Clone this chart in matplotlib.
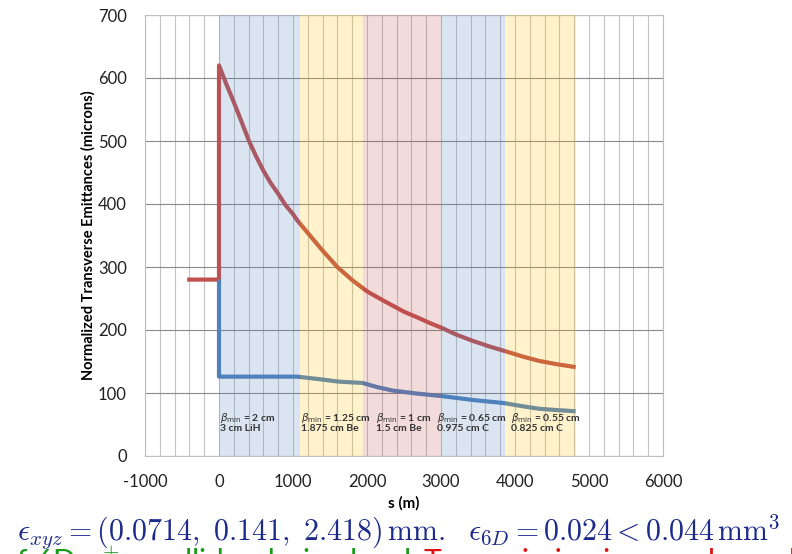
import matplotlib
matplotlib.use("Agg")
import matplotlib.pyplot as plt
import numpy as np

# Emittance evolution along the cooling channel
red_s = [-430, 0, 0, 100, 189, 300, 405, 500, 599, 700, 802, 900, 1000, 1058,
         1200, 1400, 1599, 1802, 2005, 2200, 2342, 2500, 2680, 2850, 3018,
         3200, 3423, 3650, 3851, 4100, 4324, 4550, 4820]
red_v = [280, 280, 620, 590, 565, 532, 500, 476, 453, 433, 416, 398, 384, 374,
         354, 326, 300, 279, 261, 248, 239, 229, 220, 211, 203,
         193, 183, 174, 167, 158, 151, 146, 141]

blue_s = [0, 0, 1058, 1200, 1351, 1622, 1937, 2150, 2342, 2680, 3018, 3423,
          3851, 4100, 4324, 4550, 4820]
blue_v = [280, 126, 126, 124, 122, 118, 116, 109, 104, 99, 95, 89,
          84, 79, 75, 73, 71]

# Channel stages
stage_edges = [0, 1095, 1950, 3018, 3870, 4824]
stage_colors = ["#4F81BD", "#FFC000", "#C0504D", "#4F81BD", "#FFC000"]
stage_beta = ["2 cm", "1.25 cm", "1 cm", "0.65 cm", "0.55 cm"]
stage_absorber = ["3 cm LiH", "1.875 cm Be", "1.5 cm Be", "0.975 cm C", "0.825 cm C"]
stage_label_x = [0, 1095, 2110, 2940, 3935]

x_ticks = [-1000, 0, 1000, 2000, 3000, 4000, 5000, 6000]
y_ticks = [0, 100, 200, 300, 400, 500, 600, 700]

plt.rcParams['font.family'] = ['Lato', 'DejaVu Sans']
plt.rcParams['mathtext.fontset'] = 'cm'
plt.rcParams['axes.unicode_minus'] = False

fig = plt.figure(figsize=(7.92, 5.54), dpi=100)
ax = fig.add_axes([145/792, 1 - 456/554, (663-145)/792, (456-15)/554])

ax.set_xlim(-1000, 6000)
ax.set_ylim(0, 700)

# grid
for xv in np.arange(-1000, 6001, 200):
    ax.axvline(xv, color="#c4c4c4", lw=0.8, zorder=0)
for yv in y_ticks:
    ax.axhline(yv, color="#8a8a8a", lw=0.8, zorder=0)

ax.plot(red_s, red_v, color="#C0504D", lw=3.0, solid_capstyle="butt",
        solid_joinstyle="round", zorder=2)
ax.plot(blue_s, blue_v, color="#4F81BD", lw=3.0, solid_capstyle="butt",
        solid_joinstyle="round", zorder=2)

# translucent stage bands on top of the curves
for i, c in enumerate(stage_colors):
    ax.axvspan(stage_edges[i], stage_edges[i+1], color=c, alpha=0.2, lw=0, zorder=3)

for i in range(len(stage_beta)):
    ax.text(stage_label_x[i] + 10, 61, r"$\beta_{\rm min}$ = " + stage_beta[i],
            fontsize=7.5, fontweight="bold", color="#333333", va="center", ha="left",
            math_fontfamily="dejavusans", zorder=4)
    ax.text(stage_label_x[i] + 10, 44, stage_absorber[i],
            fontsize=7.5, fontweight="bold", color="#333333", va="center", ha="left",
            zorder=4)

ax.set_xticks(x_ticks)
ax.set_yticks(y_ticks)
ax.tick_params(length=0, labelsize=12, colors="#222222")
ax.tick_params(axis="x", pad=13)
ax.tick_params(axis="y", pad=13)
for sp in ax.spines.values():
    sp.set_color("#bfbfbf")
    sp.set_linewidth(0.8)

ax.set_ylabel("Normalized Transverse Emittances (microns)", fontsize=10.5,
              fontweight="bold", labelpad=2)
ax.set_xlabel("s (m)", fontsize=11, fontweight="bold", labelpad=4)

fig.text(0.022, 1 - 532/554,
         r"$\epsilon_{xyz} = \mathbf{(0.0714,\ 0.141,\ 2.418)}\,\mathrm{mm}.\ \ \epsilon_{6D} = 0.024 < 0.044\,\mathrm{mm}^3$",
         fontsize=21.5, color="#1c2a8c", ha="left", va="center")

fig.text(0.0, 1 - 562/554, r"of 6D $\mu^{\pm}$ = collider design level.",
         fontsize=21.5, color="#1a9a1a", ha="left", va="center")
fig.text(0.535, 1 - 562/554, "Transmission is ~ as planned",
         fontsize=21.5, color="#e01010", ha="left", va="center")

fig.savefig("out.png", dpi=100)
